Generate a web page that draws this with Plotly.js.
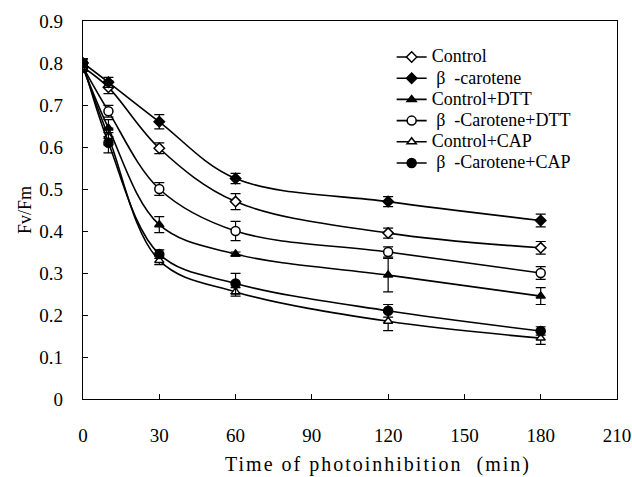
<!DOCTYPE html>
<html><head><meta charset="utf-8">
<script src="https://cdn.plot.ly/plotly-3.0.1.min.js"></script>
<style>
body{margin:0;background:#fff}
.legendtext{font-size:18px !important;}
.xtitle{transform:translateX(28px);letter-spacing:2px;}
</style>
</head><body>
<div id="chart" style="width:632px;height:477px"></div>
<script>
var times = [0, 10, 30, 60, 120, 180];
var seriesNames = ['Control', '\u00a0\u03b2\u2002-carotene', 'Control+DTT', '\u00a0\u03b2\u2002-Carotene+DTT', 'Control+CAP', '\u00a0\u03b2\u2002-Carotene+CAP'];
var control       = [0.79, 0.742, 0.597, 0.47, 0.395, 0.36];
var betaCarotene  = [0.80, 0.754, 0.66, 0.525, 0.47, 0.425];
var controlDTT    = [0.79, 0.645, 0.415, 0.345, 0.295, 0.245];
var betaCarDTT    = [0.79, 0.685, 0.50, 0.40, 0.35, 0.30];
var controlCAP    = [0.79, 0.625, 0.33, 0.255, 0.185, 0.145];
var betaCarCAP    = [0.80, 0.61, 0.345, 0.275, 0.21, 0.162];
var errControl      = [0.01, 0.015, 0.013, 0.019, 0.012, 0.015];
var errBetaCarotene = [0.01, 0.012, 0.017, 0.012, 0.012, 0.015];
var errControlDTT   = [0.01, 0.02, 0.019, 0.005, 0.04, 0.02];
var errBetaCarDTT   = [0.01, 0.014, 0.015, 0.023, 0.012, 0.015];
var errControlCAP   = [0.01, 0.02, 0.01, 0.01, 0.022, 0.015];
var errBetaCarCAP   = [0.01, 0.024, 0.01, 0.024, 0.015, 0.01];

var values = [control, betaCarotene, controlDTT, betaCarDTT, controlCAP, betaCarCAP];
var errors = [errControl, errBetaCarotene, errControlDTT, errBetaCarDTT, errControlCAP, errBetaCarCAP];
var symbols = ['diamond', 'diamond', 'triangle-up', 'circle', 'triangle-up', 'circle'];
var fills = ['#fff', '#000', '#000', '#fff', '#fff', '#000'];
var sizes = [8, 8, 8, 9, 8, 9];

var traces = values.map(function(v, i) {
  return {
    x: times, y: v, name: seriesNames[i], type: 'scatter', mode: 'lines+markers',
    line: {color: '#000', width: 1.6, shape: 'spline'},
    marker: {symbol: symbols[i], size: sizes[i], color: fills[i], line: {color: '#000', width: 1.5}},
    error_y: {type: 'data', array: errors[i], visible: true, color: '#000', thickness: 1.2, width: 5}
  };
});

var fam = '"Liberation Serif", "Times New Roman", serif';
var tickFont = {family: fam, size: 19, color: '#000'};
var layout = {
  width: 632, height: 477,
  margin: {l: 83, r: 15, t: 21, b: 78},
  paper_bgcolor: '#fff', plot_bgcolor: '#fff',
  font: tickFont,
  showlegend: true,
  legend: {x: 0.578, y: 0.946, xanchor: 'left', yanchor: 'top', bgcolor: 'rgba(0,0,0,0)',
           font: {family: fam, size: 14, color: '#000'}, itemwidth: 30, tracegroupgap: 0},
  xaxis: {range: [0, 210], dtick: 30, tick0: 0, ticks: 'inside', ticklen: 5, tickcolor: '#000',
          showline: true, linecolor: '#000', linewidth: 1.2, mirror: true, showgrid: false, zeroline: false,
          ticklabelstandoff: 19, ticklabeloverflow: 'allow', tickfont: tickFont,
          title: {text: 'Time of photoinhibition\u00a0\u00a0(min)', font: {family: fam, size: 20, color: '#000'}, standoff: 12}},
  yaxis: {range: [0, 0.9], dtick: 0.1, tick0: 0, ticks: 'inside', ticklen: 5, tickcolor: '#000',
          showline: true, linecolor: '#000', linewidth: 1.2, mirror: true, showgrid: false, zeroline: false,
          ticklabelstandoff: 15, ticklabeloverflow: 'allow', tickfont: tickFont,
          title: {text: 'Fv/Fm', font: {family: fam, size: 18, color: '#000'}, standoff: 3}}
};
Plotly.newPlot('chart', traces, layout, {displayModeBar: false, staticPlot: true});
</script>
</body></html>
